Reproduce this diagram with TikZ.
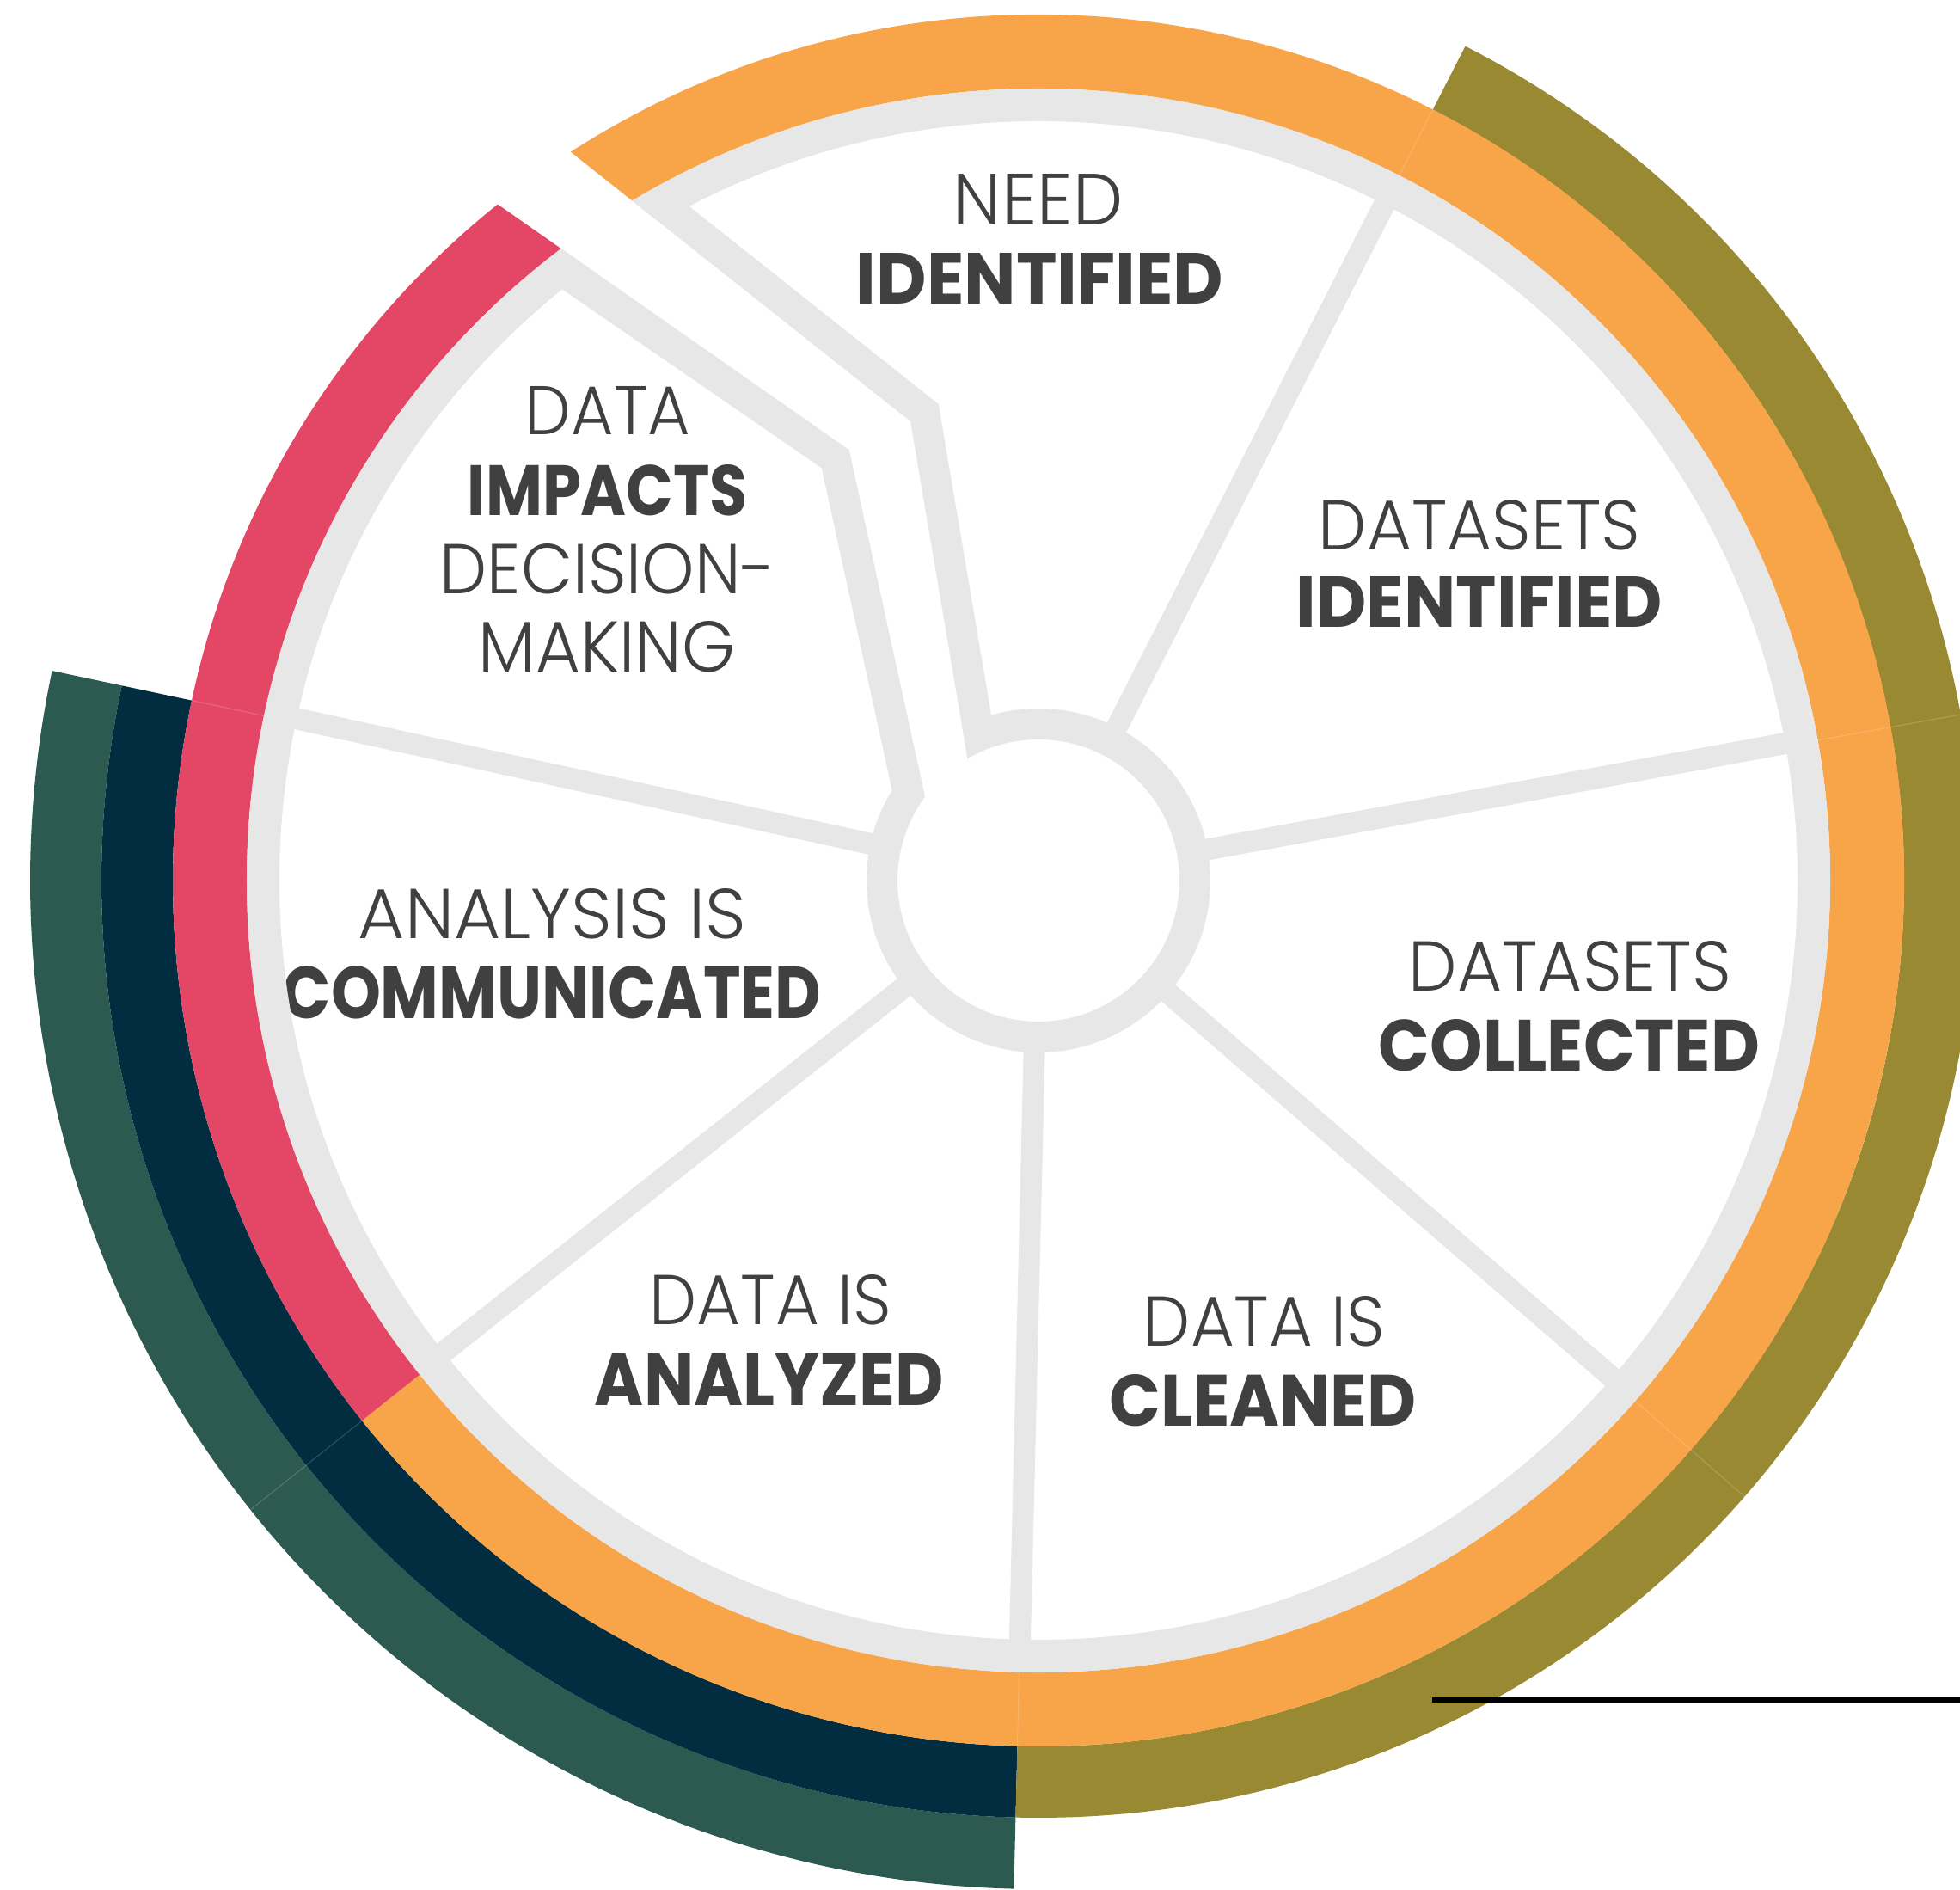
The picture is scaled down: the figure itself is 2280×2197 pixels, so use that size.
\documentclass[tikz,border=0pt]{standalone}
\usepackage{fontspec}
\usepackage{graphicx}
\setmainfont{Poppins}
\newfontfamily\lightfont{Poppins Light}
\newfontfamily\heavyfont{Poppins Bold}
\definecolor{greyc}{HTML}{E7E7E7}
\definecolor{orangec}{HTML}{F7A548}
\definecolor{olivec}{HTML}{9A8933}
\definecolor{pinkc}{HTML}{E44765}
\definecolor{navyc}{HTML}{022D40}
\definecolor{greenc}{HTML}{2D5A50}
\definecolor{txtc}{HTML}{404040}
\newcommand{\ringpart}[5]{\fill[#1] (#2:#4) arc[start angle=#2, end angle=#3, radius=#4] -- (#3:#5) arc[start angle=#3, end angle=#2, radius=#5] -- cycle;}
\tikzset{
  lbl/.style={inner sep=0pt, anchor=base, text=txtc},
  seam/.style={white, opacity=0.18, line width=0.3pt},
  spoke/.style={greyc, line width=0.25cm},
}
\begin{document}
\begin{tikzpicture}[x=0.01cm,y=0.01cm]
\useasboundingbox (0,0) rectangle (2280,2197);
\clip (0,0) rectangle (2280,2197);

% ---- texts (drawn first: the ring overlaps the C of COMMUNICATED)
\node[lbl] (t1) at (1207.5,1935) {\resizebox{1.97cm}{0.59cm}{\lightfont NEED}};
\node[lbl] (t2) at (1209.5,1843) {\resizebox{4.27cm}{0.59cm}{\heavyfont IDENTIFIED}};
\node[lbl] (t3) at (1721,1557) {\resizebox{3.74cm}{0.58cm}{\lightfont DATASETS}};
\node[lbl] (t4) at (1721,1467) {\resizebox{4.26cm}{0.59cm}{\heavyfont IDENTIFIED}};
\node[lbl] (t5) at (1826.5,1044) {\resizebox{3.75cm}{0.58cm}{\lightfont DATASETS}};
\node[lbl] (t6) at (1825.5,951) {\resizebox{4.43cm}{0.60cm}{\heavyfont COLLECTED}};
\node[lbl] (t7) at (1470.5,631) {\resizebox{2.81cm}{0.58cm}{\lightfont DATA IS}};
\node[lbl] (t8) at (1469,539) {\resizebox{3.56cm}{0.60cm}{\heavyfont CLEANED}};
\node[lbl] (t9) at (896.5,656) {\resizebox{2.81cm}{0.58cm}{\lightfont DATA IS}};
\node[lbl] (t10) at (895,563) {\resizebox{4.06cm}{0.60cm}{\heavyfont ANALYZED}};
\node[lbl] (t11) at (642.5,1105) {\resizebox{4.51cm}{0.58cm}{\lightfont ANALYSIS IS}};
\node[lbl] (t12) at (642,1012) {\resizebox{6.26cm}{0.61cm}{\heavyfont COMMUNICATED}};
\node[lbl] (t13) at (707,1691) {\resizebox{1.92cm}{0.56cm}{\lightfont DATA}};
\node[lbl] (t14) at (707,1597) {\resizebox{3.26cm}{0.59cm}{\heavyfont IMPACTS}};
\node[lbl] (t15) at (707,1506) {\resizebox{3.90cm}{0.58cm}{\lightfont DECISION-}};
\node[lbl] (t16) at (706,1415) {\resizebox{2.98cm}{0.59cm}{\lightfont MAKING}};

\begin{scope}[shift={(1208,1173)}]
  % ---- coloured outer rings
  \ringpart{greenc}{168}{268.6}{1090}{1173}
  \ringpart{navyc}{168}{268.6}{1007}{1090}
  \ringpart{olivec}{-91.4}{62.9}{1007}{1090}
  \ringpart{orangec}{-141.4}{125}{921}{1007}
  \ringpart{pinkc}{125}{218.6}{921}{1007}
  % faint seams between segments
  \foreach \a in {62.9,10.2,-41.1,-91.4,168} \draw[seam] (\a:921) -- (\a:1007);
  \foreach \a in {10.2,-41.1,218.6} \draw[seam] (\a:1007) -- (\a:1090);
  \draw[seam] (218.6:1090) -- (218.6:1173);
  % ---- grey wheel
  \draw[greyc, line width=0.38cm] (0,0) circle[radius=902];
  \foreach \a in {62.9,10.4,-40.9,-91.4,218.4,167.7} \draw[spoke] (\a:182) -- (\a:902);
  \draw[greyc, line width=0.36cm] (0,0) circle[radius=182];
  % ---- white channel between start and end of the cycle
  \fill[white] (-629.8,914.9) -- (-473,790.7) -- (-149,534) -- (-82.3,140.7) -- (0,0)
     -- (-132,97.3) -- (-220.3,500.7) -- (-555.3,735) -- (-719.2,849.6) -- cycle;
  % ---- channel borders
  \fill[greyc] (-473,790.7) -- (-149,534) -- (-82.3,140.7) -- (-54.7,191.3) -- (-116.3,554) -- (-406.3,784) -- cycle;
  \fill[greyc] (-555.3,735) -- (-220.3,500.7) -- (-132,97.3) -- (-170.1,104) -- (-252.3,479.7) -- (-553.7,687.3) -- cycle;
\end{scope}

% ---- black rule at bottom right
\coordinate (bl1) at (1666,220);
\coordinate (bl2) at (2280,220);
\draw[black, line width=0.06cm] (bl1) -- (bl2);
\end{tikzpicture}
\end{document}
